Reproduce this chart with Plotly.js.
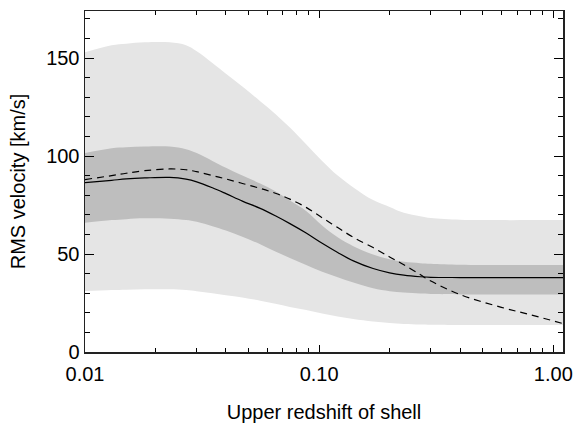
<!DOCTYPE html>
<html>
<head>
<meta charset="utf-8">
<script src="https://cdn.plot.ly/plotly-3.0.1.min.js"></script>
<style>html,body{margin:0;padding:0;background:#fff}#chart{width:577px;height:423px}</style>
</head>
<body>
<div id="chart"></div>
<script>
// Upper redshift of shell (shared grid)
const redshift = [0.01, 0.013, 0.015, 0.018, 0.023, 0.027, 0.030, 0.035, 0.040, 0.047, 0.056, 0.065, 0.075, 0.088, 0.103, 0.12, 0.14, 0.17, 0.2, 0.23, 0.27, 0.3, 0.4, 0.6, 0.8, 1.1];
// Outer (light) band
const outerUpper = [153, 156.5, 157.3, 158, 158, 156.5, 153.5, 147.5, 142, 135.5, 128, 121.5, 114.5, 106, 97.5, 90, 84, 77.5, 74, 71, 69.3, 68.4, 67.5, 67.3, 67.3, 67.3];
const outerLower = [31.1, 31.6, 31.8, 32, 32, 31.6, 31, 30, 29, 27.8, 26.2, 24.6, 23, 21.4, 19.6, 18.1, 16.8, 15.5, 14.8, 14.3, 14, 13.9, 13.8, 13.8, 13.8, 13.8];
// Inner (dark) band
const innerUpper = [101.5, 104, 104.5, 104.8, 104.8, 103.5, 101.5, 97.5, 94, 90, 86, 82, 77.3, 72, 64.5, 58.5, 54, 49.8, 47.3, 46, 45.3, 45, 44.5, 44.4, 44.4, 44.4];
const innerLower = [66, 67.3, 67.8, 68.2, 68, 67.3, 66.4, 64.2, 62, 58.8, 55, 51.3, 48, 44.4, 41, 38.2, 35.5, 32.5, 31, 30.3, 29.8, 29.6, 29.4, 29.4, 29.4, 29.4];
// Median (solid) and comparison (dashed)
const median = [86.4, 87.6, 88.3, 88.8, 89.1, 88.2, 86.8, 83.8, 80.8, 77, 73.3, 69.5, 65.5, 60.7, 55.5, 50.8, 46.5, 42.6, 40.4, 39.2, 38.4, 38.1, 38, 38, 38, 38];
const dashed = [88, 90, 91.2, 92.5, 93.4, 93, 92, 90, 88.3, 86, 83.5, 81, 78, 73.8, 68.5, 63.5, 58.5, 53.3, 48.5, 44.5, 39.5, 36.2, 29.3, 22.8, 19, 14.5];

const LIGHT = '#e5e5e5', DARK = '#bebebe';
const traces = [
  {x: redshift, y: outerLower, mode: 'lines', line: {width: 0, color: LIGHT, shape: 'spline'}, hoverinfo: 'skip', showlegend: false},
  {x: redshift, y: outerUpper, mode: 'lines', fill: 'tonexty', fillcolor: LIGHT, line: {width: 0, color: LIGHT, shape: 'spline'}, showlegend: false},
  {x: redshift, y: innerLower, mode: 'lines', line: {width: 0, color: DARK, shape: 'spline'}, showlegend: false},
  {x: redshift, y: innerUpper, mode: 'lines', fill: 'tonexty', fillcolor: DARK, line: {width: 0, color: DARK, shape: 'spline'}, showlegend: false},
  {x: redshift, y: median, mode: 'lines', line: {width: 1.2, color: '#000', shape: 'spline'}, showlegend: false},
  {x: redshift, y: dashed, mode: 'lines', line: {width: 1.2, color: '#000', dash: '7px,5px', shape: 'spline'}, showlegend: false}
];

const font = {family: 'Arial, "Liberation Sans", sans-serif', size: 20, color: '#000'};
const layout = {
  width: 577, height: 423,
  margin: {l: 85, r: 14, t: 11, b: 71},
  paper_bgcolor: '#fff', plot_bgcolor: '#fff',
  font: font,
  showlegend: false,
  xaxis: {
    type: 'log', range: [-2, Math.log10(1.1)],
    dtick: 1, tickformat: '.2f',
    ticks: 'inside', ticklen: 7, tickwidth: 1, tickcolor: '#000',
    ticklabelstandoff: 3,
    minor: {dtick: 'D1', ticks: 'inside', ticklen: 4, tickwidth: 1, tickcolor: '#000'},
    showline: true, linecolor: '#222', linewidth: 1.5, mirror: 'allticks',
    showgrid: false, zeroline: false,
    tickfont: font,
    title: {text: 'Upper redshift of shell', font: font, standoff: 24}
  },
  yaxis: {
    range: [0, 174],
    dtick: 50,
    ticks: 'inside', ticklen: 9, tickwidth: 1, tickcolor: '#000',
    minor: {dtick: 10, ticks: 'inside', ticklen: 5, tickwidth: 1, tickcolor: '#000'},
    showline: true, linecolor: '#222', linewidth: 1.5, mirror: 'allticks',
    showgrid: false, zeroline: false,
    tickfont: font,
    title: {text: 'RMS velocity [km/s]', font: font, standoff: 15}
  }
};
Plotly.newPlot('chart', traces, layout, {staticPlot: true, displayModeBar: false});
</script>
</body>
</html>
